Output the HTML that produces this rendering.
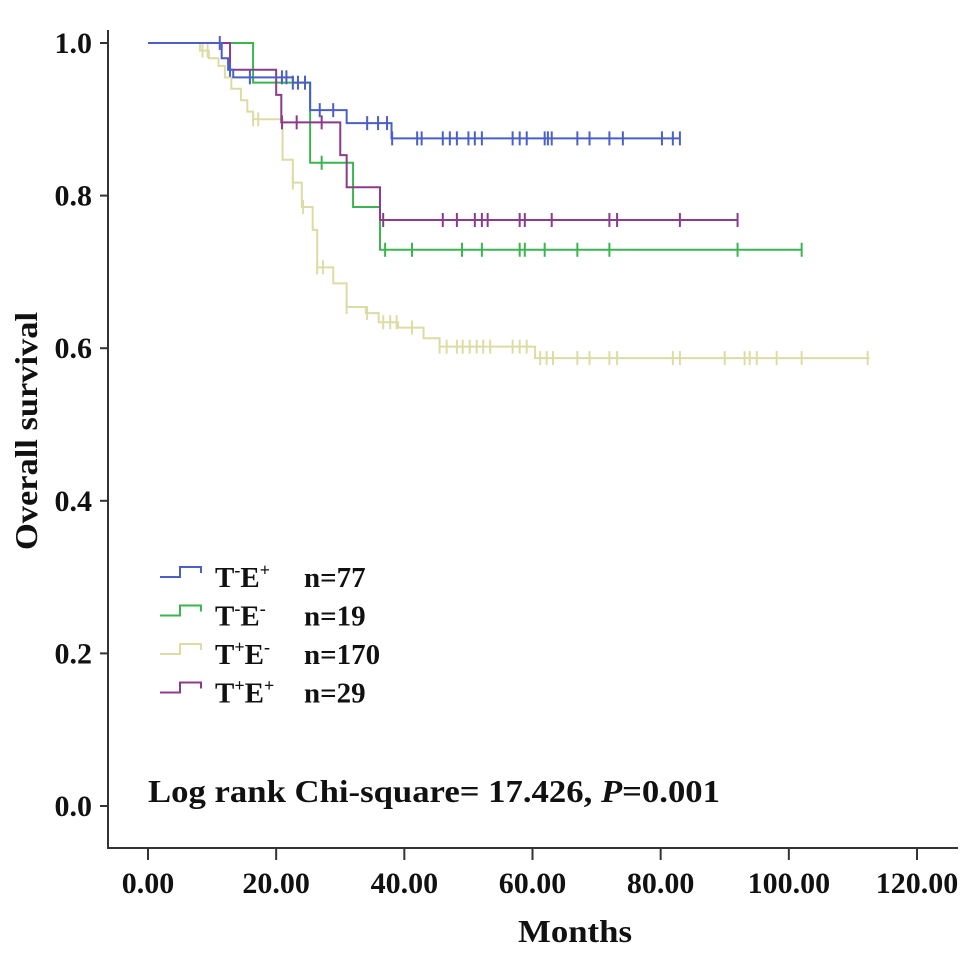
<!DOCTYPE html>
<html><head><meta charset="utf-8"><style>
html,body{margin:0;padding:0;background:#fff;}
svg{display:block;font-family:"Liberation Serif",serif;font-weight:bold;}
</style></head><body>
<svg id="chart" width="969" height="953" viewBox="0 0 969 953">
<g id="axes"></g>
<g id="curves"></g>
<g id="legend"></g>
<text x="148" y="802" font-size="32" textLength="572" lengthAdjust="spacingAndGlyphs" fill="#111">Log rank Chi-square= 17.426, <tspan font-style="italic">P</tspan>=0.001</text>
<text x="575" y="942" font-size="32" text-anchor="middle" textLength="114" lengthAdjust="spacingAndGlyphs" fill="#111">Months</text>
<text transform="translate(37,431) rotate(-90)" font-size="32" text-anchor="middle" textLength="238" lengthAdjust="spacingAndGlyphs" fill="#111">Overall survival</text>
</svg>
<script>
const xTicks=[0,20,40,60,80,100,120];
const xTickLabels=["0.00","20.00","40.00","60.00","80.00","100.00","120.00"];
const yTicks=[0,0.2,0.4,0.6,0.8,1.0];
const yTickLabels=["0.0","0.2","0.4","0.6","0.8","1.0"];
const seriesNames=["T-E+","T-E-","T+E-","T+E+"];
const seriesColors=["#4a5fc8","#3cb550","#dcdca4","#8b3b8b"];
const blueTimes=[0,11.5,12.5,13.3,22.6,25.3,31,38,83];
const blueSurv=[1,0.98,0.965,0.955,0.948,0.912,0.895,0.875,0.875];
const blueCens=[11.2,12.8,15.9,20.9,21.6,22.6,23.4,24.5,26.8,28.9,34.2,35.9,37.3,38.1,42,42.7,46,47.1,48.2,50,51,52.1,56.9,58,59.1,61.9,62.4,63,67,68.9,72,74.1,80.2,81.9,83];
const greenTimes=[0,16.4,25.3,32,36.2,102];
const greenSurv=[1,0.948,0.843,0.785,0.729,0.729];
const greenCens=[27.1,37,41.2,49,52.1,58,58.8,61.9,67,72,92,102];
const yellowTimes=[0,8.1,9.5,11,12,13,14.5,15.5,16.4,21,22.6,24,25.7,26.4,28.9,31,34,36,39,43,45.5,60.4,112.6];
const yellowSurv=[1,0.99,0.98,0.97,0.955,0.94,0.925,0.91,0.9,0.847,0.817,0.785,0.755,0.706,0.685,0.654,0.646,0.634,0.627,0.613,0.602,0.587,0.587];
const yellowCens=[8.5,9.3,16.4,17.2,22.6,24.2,26.4,27.3,31,34.2,36.7,37.8,38.8,41.2,45.5,46.6,48.2,49.1,50.2,51.3,52.3,53.4,56.9,58,59.1,61.2,62.2,63.2,67,68.9,72,73.2,81.9,83,90,93.1,93.9,95,98.1,102,112.3];
const purpleTimes=[0,12.8,20,20.8,30,31,36.2,92];
const purpleSurv=[1,0.965,0.932,0.896,0.853,0.811,0.768,0.768];
const purpleCens=[20.9,23.2,27.1,36.7,46,48.2,51,52.1,53,58,58.8,63,72,73.2,83,92];

const X=t=>148+t*(917-148)/120;
const Y=s=>806-s*763;
const NS="http://www.w3.org/2000/svg";
function mk(tag,attrs,parent){const e=document.createElementNS(NS,tag);for(const k in attrs)e.setAttribute(k,attrs[k]);parent.appendChild(e);return e;}
const axes=document.getElementById('axes');
const ax1=mk('path',{d:`M108,30 V848 H958`,fill:'none',stroke:'#333','stroke-width':2},axes);


xTicks.forEach((t,i)=>{
  const tk=mk('line',{x1:X(t),x2:X(t),y1:848,y2:860,stroke:'#333','stroke-width':2},axes);
  
  
  const tx=mk('text',{x:X(t),y:893,'font-size':30,'text-anchor':'middle',fill:'#111'},axes);
  tx.textContent=xTickLabels[i];
  
  
});
yTicks.forEach((s,i)=>{
  const tk=mk('line',{x1:100,x2:108,y1:Y(s),y2:Y(s),stroke:'#333','stroke-width':2},axes);
  
  
  const tx=mk('text',{x:92,y:Y(s)+10,'font-size':30,'text-anchor':'end',fill:'#111'},axes);
  tx.textContent=yTickLabels[i];
  
  
});
function survAt(times,surv,t){let s=surv[0];for(let i=0;i<times.length;i++){if(times[i]<=t)s=surv[i];}return s;}
const curves=document.getElementById('curves');
const all=[[yellowTimes,yellowSurv,yellowCens],[greenTimes,greenSurv,greenCens],[purpleTimes,purpleSurv,purpleCens],[blueTimes,blueSurv,blueCens]];
const idx=[2,1,3,0];
all.forEach((d,j)=>{
  const [times,surv,cens]=d;const c=seriesColors[idx[j]];
  let p=`M${X(times[0])},${Y(surv[0])}`;
  for(let i=1;i<times.length;i++){p+=` H${X(times[i])} V${Y(surv[i])}`;}
  const g=mk('g',{},curves);
  
  
  mk('path',{d:p,fill:'none',stroke:c,'stroke-width':2},g);
  cens.forEach(t=>{
    const s=survAt(times,surv,t);
    const m=mk('line',{x1:X(t),x2:X(t),y1:Y(s)-7,y2:Y(s)+7,stroke:c,'stroke-width':2},g);
    
    
  });
});
const legend=document.getElementById('legend');
const labels=[['T','-','E','+','n=77'],['T','-','E','-','n=19'],['T','+','E','-','n=170'],['T','+','E','+','n=29']];
labels.forEach((l,i)=>{
  const y=575+i*38.5;
  const g=mk('g',{},legend);
  
  
  mk('path',{d:`M160,${y+2} H180 V${y-8} H201 V${y-2}`,fill:'none',stroke:seriesColors[i],'stroke-width':2},g);
  const t=mk('text',{x:215,y:y+12,'font-size':29,fill:'#111'},g);
  t.innerHTML=`${l[0]}<tspan font-size="18" dy="-11">${l[1]}</tspan><tspan dy="11">${l[2]}</tspan><tspan font-size="18" dy="-11">${l[3]}</tspan>`;
  const n=mk('text',{x:304,y:y+12,'font-size':29,fill:'#111'},g);
  n.textContent=l[4];
});
</script>
</body></html>
